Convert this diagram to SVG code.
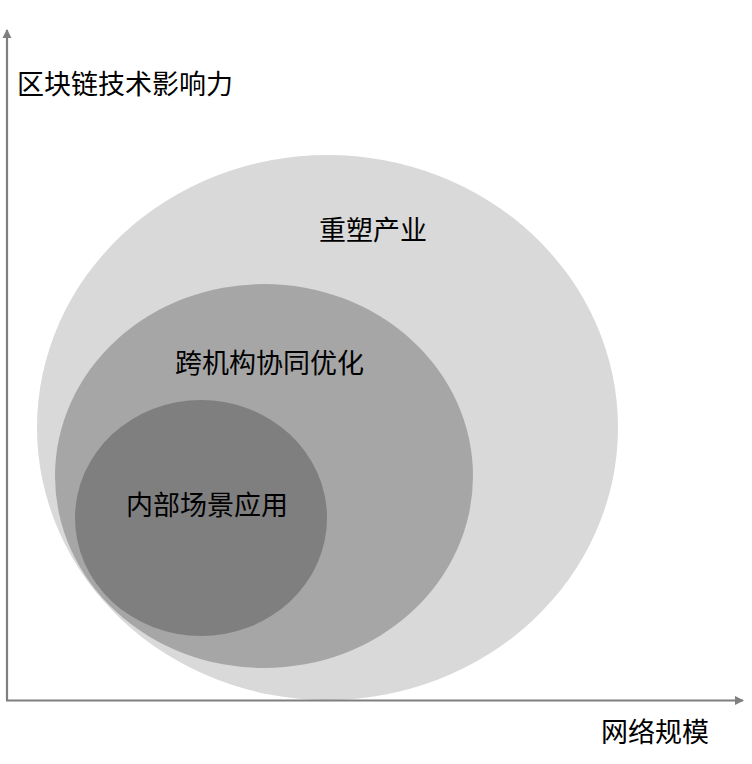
<svg xmlns="http://www.w3.org/2000/svg" width="752" height="764" viewBox="0 0 752 764">
<style>
.lbl{font-family:"Noto Sans CJK SC","Microsoft YaHei",sans-serif;font-size:27px;fill:#000}
.axis{stroke:#7f7f7f;stroke-width:2.2;fill:none}
</style>
<defs>
<marker id="arr" viewBox="0 0 10 10" refX="9" refY="5" markerWidth="4.2" markerHeight="4.2" orient="auto" markerUnits="strokeWidth">
<path d="M0,0 L10,5 L0,10 Z" fill="#7f7f7f"/>
</marker>
</defs>
<rect width="752" height="764" fill="#fff"/>
<g id="node-industry">
<ellipse cx="327.5" cy="427.5" rx="290.5" ry="272.5" fill="#d9d9d9"/>
<text class="lbl" x="319" y="240">重塑产业</text>
</g>
<g id="node-cross">
<ellipse cx="264" cy="476" rx="209" ry="192" fill="#a6a6a6"/>
<text class="lbl" x="175" y="373">跨机构协同优化</text>
</g>
<g id="node-internal">
<ellipse cx="201" cy="518" rx="126" ry="118" fill="#7f7f7f"/>
<text class="lbl" x="126" y="515">内部场景应用</text>
</g>
<g id="connectors">
<line class="axis" x1="7" y1="700.5" x2="7" y2="30" marker-end="url(#arr)"/>
<line class="axis" x1="6" y1="700.5" x2="743" y2="700.5" marker-end="url(#arr)"/>
</g>
<g id="axis-labels">
<text class="lbl" x="17" y="94">区块链技术影响力</text>
<text class="lbl" x="601" y="742">网络规模</text>
</g>
</svg>
